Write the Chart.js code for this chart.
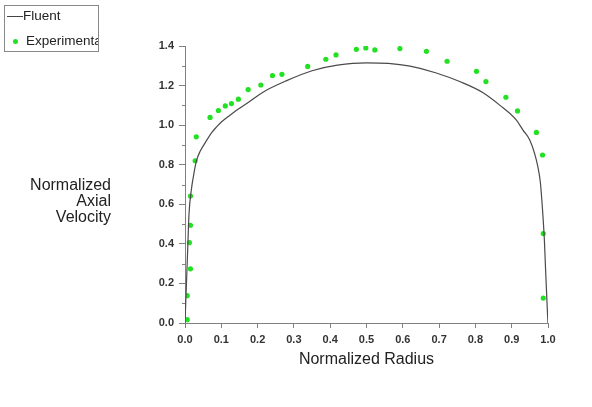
<!DOCTYPE html>
<html>
<head>
<meta charset="utf-8">
<script src="https://cdn.jsdelivr.net/npm/chart.js@4/dist/chart.umd.min.js"></script>
<style>
  body { margin: 0; background: #fff; font-family: "Liberation Sans", Arial, sans-serif; }
  #wrap { position: relative; width: 592px; height: 407px; }
  #legend {
    position: absolute; left: 4px; top: 5px; width: 93px; height: 45px;
    border: 1px solid #888; overflow: hidden; font-size: 13.5px; color: #222;
  }
  #legend .row { position: absolute; white-space: nowrap; line-height: 16px; }
  #legend .line { position: absolute; left: 2px; top: 10px; width: 16px; border-top: 1px solid #444; }
  #legend .dot { position: absolute; left: 8px; top: 33px; width: 5px; height: 5px; border-radius: 50%; background: #22e022; }
  #ytitle {
    position: absolute; right: 481px; top: 177px; text-align: right;
    font-size: 16px; line-height: 15.8px; color: #222;
  }
  #xtitle {
    position: absolute; left: 185px; width: 363px; top: 350px; text-align: center;
    font-size: 16px; color: #222;
  }
</style>
</head>
<body>
<div id="wrap">
  <canvas id="chart"></canvas>
  <div id="legend">
    <div class="line"></div>
    <div class="row" style="left:18px; top:2px;">Fluent</div>
    <div class="dot"></div>
    <div class="row" style="left:21px; top:27px;">Experimental</div>
  </div>
  <div id="ytitle">Normalized<br>Axial<br>Velocity</div>
  <div id="xtitle">Normalized Radius</div>
</div>
<script>
// Fluent (CFD) profile
let fluentRadius = [0, 0.003, 0.007, 0.011, 0.018, 0.023, 0.028, 0.032, 0.041, 0.060, 0.073, 0.087, 0.101, 0.124, 0.147,
    0.170, 0.216, 0.28, 0.35, 0.42, 0.50, 0.56, 0.62, 0.69, 0.76, 0.82, 0.867, 0.913, 0.931, 0.950, 0.963, 0.972,
    0.979, 0.985, 0.990, 0.993, 0.9985, 1.0];
let fluentVelocity = [0, 0.15, 0.35, 0.55, 0.68, 0.739, 0.79, 0.823, 0.865, 0.924, 0.961, 0.991, 1.017, 1.050, 1.081,
    1.109, 1.168, 1.225, 1.275, 1.303, 1.315, 1.312, 1.298, 1.265, 1.218, 1.165, 1.101, 1.025, 0.975, 0.924, 0.857, 0.790,
    0.71, 0.57, 0.42, 0.285, 0.052, 0];

// experimental points
let expRadius = [0.006, 0.006, 0.015, 0.012, 0.015, 0.015, 0.028, 0.031, 0.069, 0.092, 0.111, 0.128, 0.147, 0.174, 0.209,
    0.241, 0.267, 0.338, 0.388, 0.416, 0.472, 0.498, 0.523, 0.592, 0.665, 0.722, 0.803, 0.829, 0.884, 0.916, 0.968,
    0.985, 0.987, 0.987];
let expVelocity = [0.017, 0.138, 0.274, 0.406, 0.494, 0.642, 0.820, 0.941, 1.039, 1.074, 1.097, 1.109, 1.131, 1.180, 1.203,
    1.251, 1.257, 1.297, 1.333, 1.355, 1.383, 1.390, 1.380, 1.387, 1.373, 1.323, 1.272, 1.220, 1.141, 1.072, 0.963,
    0.849, 0.452, 0.126];

let xTicks = [0, 0.1, 0.2, 0.3, 0.4, 0.5, 0.6, 0.7, 0.8, 0.9, 1.0];
let yMajorTicks = [0, 0.2, 0.4, 0.6, 0.8, 1.0, 1.2, 1.4];
let yMinorTicks = [0.1, 0.3, 0.5, 0.7, 0.9, 1.1, 1.3];

const axisColor = '#808080';
const tickFont = { family: '"Liberation Sans", Arial, sans-serif', size: 11, weight: 'bold' };

// shorter minor ticks on the y axis
const minorTicks = {
    id: 'minorTicks',
    afterDraw(chart) {
        let ctx = chart.ctx;
        let y = chart.scales.y;
        ctx.save();
        ctx.strokeStyle = axisColor;
        ctx.lineWidth = 1;
        yMinorTicks.forEach(v => {
            let py = Math.round(y.getPixelForValue(v)) + 0.5;
            ctx.beginPath();
            ctx.moveTo(y.right - 3, py);
            ctx.lineTo(y.right, py);
            ctx.stroke();
        });
        ctx.restore();
    }
};

new Chart(document.getElementById('chart'), {
    type: 'scatter',
    data: {
        datasets: [
            {
                label: 'Fluent',
                data: fluentRadius.map((r, i) => ({ x: r, y: fluentVelocity[i] })),
                showLine: true,
                borderColor: '#4a4a4a',
                borderWidth: 1.2,
                pointRadius: 0,
                cubicInterpolationMode: 'monotone'
            },
            {
                label: 'Experimental',
                data: expRadius.map((r, i) => ({ x: r, y: expVelocity[i] })),
                backgroundColor: '#22e022',
                borderColor: '#22e022',
                pointRadius: 2.6,
                pointBorderWidth: 0
            }
        ]
    },
    options: {
        responsive: true,
        maintainAspectRatio: false,
        animation: false,
        layout: { padding: { top: 46, right: 44, bottom: 0, left: 0 } },
        plugins: { legend: { display: false }, tooltip: { enabled: false } },
        scales: {
            x: {
                type: 'linear',
                min: 0,
                max: 1,
                afterFit: s => { s.height = 84; },
                afterBuildTicks: s => { s.ticks = xTicks.map(v => ({ value: v })); },
                border: { display: true, color: axisColor },
                grid: { drawOnChartArea: false, tickLength: 5, tickColor: axisColor },
                ticks: {
                    color: '#333',
                    font: tickFont,
                    padding: 5,
                    maxRotation: 0,
                    callback: v => v.toFixed(1)
                }
            },
            y: {
                min: 0,
                max: 1.4,
                afterFit: s => { s.width = 185; },
                afterBuildTicks: s => { s.ticks = yMajorTicks.map(v => ({ value: v })); },
                border: { display: true, color: axisColor },
                grid: { drawOnChartArea: false, tickLength: 6, tickColor: axisColor },
                ticks: {
                    color: '#333',
                    font: tickFont,
                    padding: 5,
                    callback: v => v.toFixed(1)
                }
            }
        }
    },
    plugins: [minorTicks]
});
</script>
</body>
</html>
